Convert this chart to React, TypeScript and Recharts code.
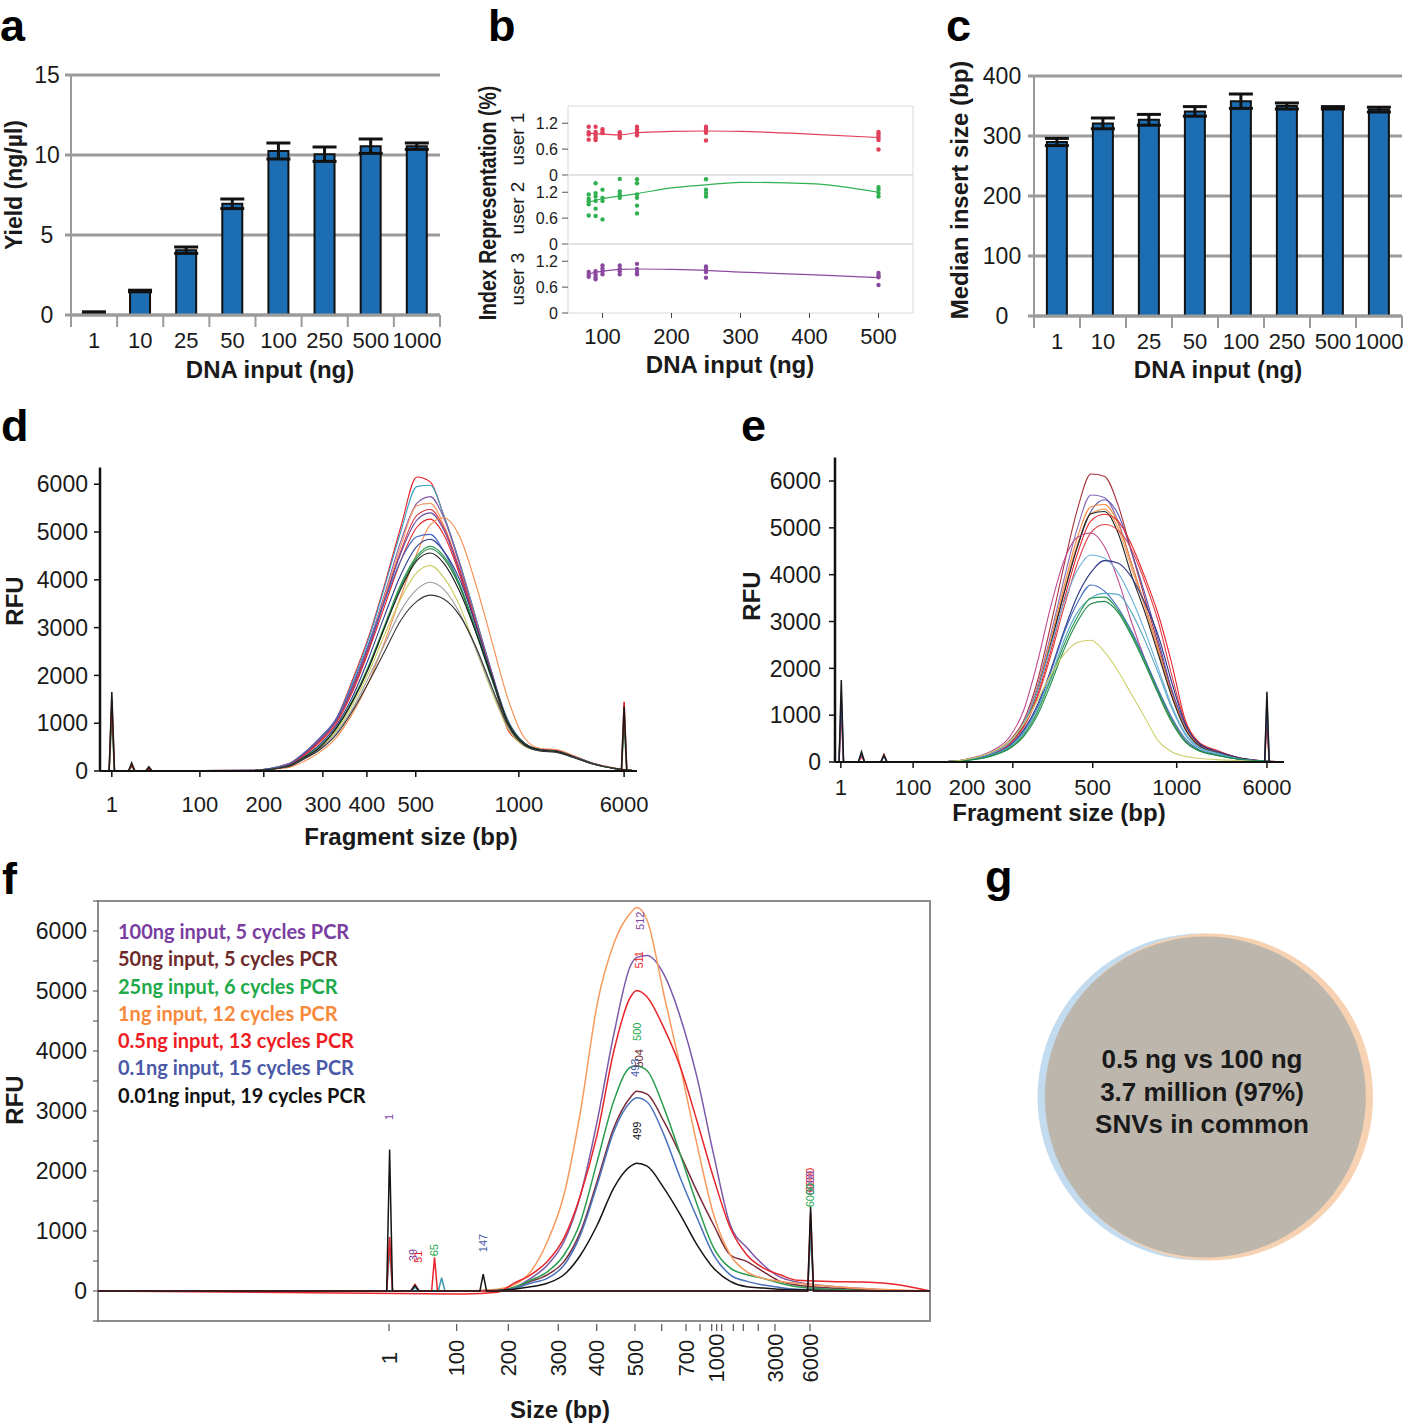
import React from 'react';
import {
  BarChart, Bar, ErrorBar, XAxis, YAxis, CartesianGrid,
  ComposedChart, Line, Scatter, ReferenceArea, Legend,
  PieChart, Pie,
} from 'recharts';

const FONT = '"Liberation Sans", Arial, Helvetica, sans-serif';
const INK = '#1a1a1a';
const GRID = '#9b9b9b';

// ---------- a / c : library yield and insert size by DNA input ----------
const inputs = ['1', '10', '25', '50', '100', '250', '500', '1000'];
const yieldMean = [0.15, 1.5, 4.05, 6.95, 10.25, 10.05, 10.55, 10.55];
const yieldErr = [0.05, 0.05, 0.2, 0.3, 0.5, 0.45, 0.45, 0.2];
const insertMedian = [290, 321, 327, 341, 358, 350, 347, 344];
const insertErr = [6, 9, 9, 8, 12, 5, 2, 4];

// ---------- b : index representation per user ----------
const bInputs = [80, 90, 100, 125, 150, 250, 500];
const user1Reps = [
  [1.12, 0.99, 0.94, 0.82], [1.12, 1.0, 0.93, 0.86, 0.81], [1.06, 1.0, 0.97],
  [0.99, 0.94, 0.89, 0.86], [1.12, 1.06, 1.0, 0.96, 0.92], [1.12, 1.07, 1.02, 0.98, 0.8],
  [1.0, 0.96, 0.91, 0.86, 0.81, 0.59],
];
const user2Reps = [
  [1.15, 1.05, 0.99, 0.92, 0.66], [1.41, 1.18, 1.1, 1.0, 0.82, 0.65], [1.26, 1.07, 1.0, 0.57],
  [1.51, 1.22, 1.15, 1.07], [1.5, 1.41, 1.15, 1.07, 0.89, 0.71], [1.5, 1.26, 1.18, 1.1],
  [1.32, 1.26, 1.18, 1.1],
];
const user3Reps = [
  [0.95, 0.89, 0.84], [0.97, 0.89, 0.83, 0.78], [1.1, 1.03, 0.97, 0.9],
  [1.1, 1.03, 0.97, 0.9], [1.14, 1.02, 0.95, 0.9], [1.08, 1.02, 0.95, 0.82],
  [0.93, 0.87, 0.83, 0.65],
];
const fitInputs = [80, 100, 125, 150, 200, 250, 300, 400, 500];
const user1Fit = [0.97, 0.95, 0.93, 0.98, 1.01, 1.02, 1.01, 0.95, 0.87];
const user2Fit = [0.97, 1.05, 1.11, 1.17, 1.3, 1.37, 1.43, 1.4, 1.2];
const user3Fit = [0.91, 0.97, 1.01, 1.02, 1.01, 0.99, 0.95, 0.89, 0.82];
const bTicks = [100, 200, 300, 400, 500];

// ---------- d : electropherograms (migration position 0-100, RFU) ----------
const dTickPos = [2.2, 18.6, 30.5, 41.5, 49.7, 58.8, 78.0, 97.6];
const dTickLabels = ['1', '100', '200', '300', '400', '500', '1000', '6000'];
const dGrid = [0, 28, 35, 38, 41, 44, 47, 50, 53, 56, 59, 61.5, 64, 67, 70, 73, 76, 79, 82, 85, 88, 92, 96, 100];
const dTraces = [
  [0, 15, 150, 380, 700, 1100, 1900, 2800, 3900, 5100, 6150, 6050, 5350, 4350, 3200, 2000, 850, 560, 450, 430, 320, 150, 50, 0],
  [0, 15, 140, 370, 690, 1080, 1850, 2750, 3850, 5000, 5950, 5980, 5350, 4350, 3200, 2050, 950, 570, 450, 430, 320, 150, 50, 0],
  [0, 12, 120, 340, 640, 1050, 1750, 2650, 3700, 4800, 5600, 5740, 5300, 4300, 3150, 2050, 1000, 580, 450, 430, 320, 150, 50, 0],
  [0, 12, 110, 320, 600, 1000, 1700, 2600, 3650, 4700, 5550, 5600, 5150, 4200, 3100, 2000, 950, 560, 440, 420, 310, 150, 50, 0],
  [0, 14, 130, 360, 660, 1050, 1750, 2600, 3600, 4600, 5350, 5470, 5100, 4200, 3100, 2000, 1000, 580, 450, 430, 320, 150, 50, 0],
  [0, 12, 125, 350, 650, 1050, 1700, 2550, 3550, 4550, 5250, 5400, 5050, 4150, 3050, 1950, 1000, 570, 440, 420, 310, 150, 50, 0],
  [0, 12, 120, 330, 620, 1000, 1650, 2500, 3450, 4400, 5100, 5270, 4950, 4100, 3050, 2000, 1020, 580, 450, 430, 320, 150, 50, 0],
  [0, 8, 70, 200, 400, 700, 1200, 1850, 2700, 3650, 4550, 5150, 5300, 4900, 3900, 2700, 1500, 700, 470, 450, 330, 160, 60, 0],
  [0, 14, 140, 380, 700, 1100, 1800, 2650, 3550, 4400, 4900, 4950, 4600, 3900, 2950, 1950, 1000, 570, 440, 420, 310, 150, 50, 0],
  [0, 10, 110, 300, 560, 950, 1550, 2350, 3250, 4100, 4700, 4850, 4600, 4000, 3050, 2000, 1050, 590, 450, 420, 310, 150, 50, 0],
  [0, 10, 100, 290, 520, 900, 1480, 2200, 3050, 3900, 4500, 4700, 4500, 3900, 2950, 1950, 1020, 580, 440, 410, 300, 140, 50, 0],
  [0, 10, 100, 280, 510, 880, 1450, 2150, 3000, 3850, 4450, 4650, 4450, 3850, 2900, 1900, 1000, 570, 440, 410, 300, 140, 50, 0],
  [0, 10, 95, 270, 490, 840, 1380, 2050, 2850, 3600, 4150, 4300, 4050, 3450, 2550, 1650, 880, 520, 420, 400, 290, 140, 50, 0],
  [0, 10, 90, 260, 470, 800, 1300, 1950, 2650, 3350, 3800, 3950, 3800, 3300, 2550, 1700, 920, 540, 420, 400, 290, 140, 50, 0],
  [0, 10, 100, 280, 500, 900, 1450, 2150, 3000, 3800, 4400, 4560, 4350, 3750, 2900, 1950, 1000, 570, 440, 410, 300, 140, 50, 0],
  [0, 10, 90, 250, 450, 760, 1250, 1850, 2500, 3150, 3550, 3680, 3600, 3250, 2600, 1750, 950, 540, 420, 390, 290, 140, 50, 0],
];
const dColors = ['#e41e26', '#36a3c4', '#8459a8', '#f49b6b', '#d8343f', '#6a4a9e', '#e8212a', '#f58a4c',
  '#4569c0', '#2e3d8f', '#2a9a52', '#1c7a3c', '#c9c95a', '#9a9a9a', '#1a1a1a', '#333333'];
const dMarkerX = [0, 1.7, 2.2, 2.7, 5.3, 5.9, 6.5, 8.5, 9.1, 9.7, 97.1, 97.6, 98.1, 100];
const dMarkers = [
  [0, 0, 1100, 0, 0, 100, 0, 0, 70, 0, 0, 1000, 0, 0],
  [0, 0, 1500, 0, 0, 120, 0, 0, 60, 0, 0, 1450, 0, 0],
  [0, 0, 1650, 0, 0, 170, 0, 0, 90, 0, 0, 1350, 0, 0],
];
const dMarkerColors = ['#2a9a52', '#e41e26', '#1a1a1a'];

// ---------- e ----------
const eTickPos = [1.3, 17.4, 29.4, 39.6, 57.4, 76.1, 96.2];
const eTickLabels = ['1', '100', '200', '300', '500', '1000', '6000'];
const eGrid = [0, 25, 30, 35, 39, 42, 45, 48, 51, 54, 57, 60, 63, 66, 69, 72, 75, 78, 81, 85, 90, 95, 100];
const eTraces = [
  [0, 10, 70, 210, 470, 880, 1700, 2900, 4200, 5400, 6150, 6100, 5500, 4500, 3500, 2500, 1500, 750, 370, 210, 80, 20, 0],
  [0, 10, 65, 200, 450, 850, 1600, 2700, 3900, 5000, 5700, 5650, 5150, 4250, 3350, 2400, 1450, 720, 360, 200, 80, 20, 0],
  [0, 10, 60, 190, 420, 800, 1500, 2500, 3600, 4600, 5350, 5600, 5300, 4500, 3600, 2600, 1550, 780, 380, 210, 80, 20, 0],
  [0, 10, 60, 200, 430, 820, 1550, 2600, 3750, 4800, 5450, 5500, 5100, 4250, 3350, 2400, 1450, 730, 360, 200, 80, 20, 0],
  [0, 10, 60, 190, 420, 800, 1500, 2550, 3650, 4650, 5300, 5400, 5000, 4150, 3300, 2350, 1400, 710, 350, 200, 80, 20, 0],
  [0, 10, 60, 190, 420, 780, 1500, 2500, 3600, 4600, 5300, 5350, 4900, 4000, 3200, 2300, 1400, 700, 350, 200, 80, 20, 0],
  [0, 10, 55, 180, 400, 760, 1400, 2350, 3450, 4450, 5150, 5290, 5150, 4650, 3950, 3150, 2100, 900, 430, 250, 90, 25, 0],
  [0, 10, 55, 175, 390, 740, 1350, 2250, 3300, 4250, 4900, 5070, 4950, 4550, 3850, 3000, 1850, 850, 400, 240, 90, 25, 0],
  [0, 10, 80, 240, 550, 1100, 2100, 3300, 4300, 4800, 4890, 4600, 3900, 3000, 2200, 1500, 900, 450, 250, 150, 60, 20, 0],
  [0, 10, 60, 190, 430, 820, 1500, 2450, 3400, 4100, 4420, 4350, 4050, 3500, 2800, 2000, 1200, 620, 320, 190, 70, 20, 0],
  [0, 8, 50, 160, 360, 680, 1200, 1950, 2800, 3550, 4050, 4300, 4250, 3950, 3400, 2700, 1700, 820, 400, 230, 90, 25, 0],
  [0, 8, 50, 160, 350, 650, 1150, 1900, 2750, 3400, 3780, 3650, 3300, 2800, 2200, 1550, 950, 500, 270, 160, 60, 20, 0],
  [0, 8, 45, 150, 330, 620, 1100, 1800, 2600, 3200, 3500, 3600, 3580, 3200, 2600, 1900, 1150, 580, 300, 170, 70, 20, 0],
  [0, 8, 45, 140, 310, 580, 1050, 1750, 2500, 3100, 3500, 3520, 3250, 2750, 2150, 1500, 900, 450, 250, 150, 60, 20, 0],
  [0, 8, 40, 130, 290, 540, 980, 1650, 2400, 3000, 3380, 3430, 3200, 2700, 2100, 1450, 850, 430, 240, 140, 60, 20, 0],
  [0, 12, 70, 220, 450, 800, 1300, 1850, 2300, 2550, 2600, 2350, 1950, 1450, 950, 450, 220, 120, 80, 50, 30, 10, 0],
];
const eColors = ['#a8323a', '#8a6ab8', '#5a4fb0', '#f28a3c', '#f4a060', '#222222', '#e8262b', '#e04048',
  '#c04a90', '#6ab0d8', '#2a3480', '#3f68c0', '#5aa8c8', '#2a9a50', '#1c8a48', '#cfcf6a'];
const eMarkerX = [0, 0.9, 1.4, 1.9, 5.2, 5.9, 6.6, 10.2, 10.9, 11.6, 95.7, 96.2, 96.7, 100];
const eMarkers = [
  [0, 0, 1100, 0, 0, 120, 0, 0, 160, 0, 0, 900, 0, 0],
  [0, 0, 1400, 0, 0, 180, 0, 0, 120, 0, 0, 1300, 0, 0],
  [0, 0, 1750, 0, 0, 220, 0, 0, 150, 0, 0, 1500, 0, 0],
];
const eMarkerColors = ['#e8262b', '#3f68c0', '#1a1a1a'];

// ---------- f : one trace per input / PCR cycles ----------
const fSamples = ['100ng input, 5 cycles PCR', '50ng input, 5 cycles PCR', '25ng input, 6 cycles PCR',
  '1ng input, 12 cycles PCR', '0.5ng input, 13 cycles PCR', '0.1ng input, 15 cycles PCR', '0.01ng input, 19 cycles PCR'];
const fLegendColors = ['#7a3ea1', '#6e2b2b', '#1eaa4b', '#f7893b', '#ee1d24', '#4b5aa8', '#111111'];
const fLineColors = ['#7d58a8', '#7b2d3c', '#2a9d4e', '#f79a5e', '#e8262b', '#4a72bd', '#151515'];
const fGrid = [0, 44, 48, 50, 52, 54, 56, 58, 60, 62, 64, 64.75, 66, 68, 70, 72, 74, 76, 78, 80, 82, 84, 88, 92, 96, 100];
const fTraces = [
  [0, 0, 20, 60, 210, 430, 820, 1600, 2830, 4280, 5420, 5560, 5590, 5280, 4560, 3560, 2270, 1100, 720, 430, 230, 150, 80, 40, 10, 0],
  [0, 0, 15, 50, 160, 270, 490, 990, 1830, 2720, 3230, 3330, 3280, 2830, 2270, 1660, 1100, 600, 490, 320, 160, 100, 50, 20, 0, 0],
  [0, 0, 20, 60, 180, 320, 600, 1160, 2160, 3170, 3730, 3750, 3670, 3060, 2270, 1440, 720, 380, 270, 210, 130, 70, 30, 10, 0, 0],
  [0, 0, 30, 100, 320, 820, 1600, 3000, 4780, 5790, 6300, 6390, 6180, 4950, 3730, 2440, 1270, 600, 320, 210, 160, 130, 80, 40, 20, 0],
  [0, -50, -20, 130, 270, 490, 880, 1600, 2610, 4000, 4900, 5010, 4900, 4390, 3730, 2830, 1880, 1050, 600, 380, 270, 180, 160, 150, 110, 0],
  [0, 0, 10, 40, 130, 210, 430, 940, 1770, 2660, 3150, 3220, 3150, 2610, 1880, 1220, 600, 270, 160, 100, 60, 30, 10, 0, 0, 0],
  [0, 0, 10, 30, 70, 130, 270, 600, 1100, 1720, 2080, 2130, 2080, 1720, 1270, 770, 380, 160, 70, 50, 30, 20, 10, 0, 0, 0],
];
const fMarkerX = [0, 34.7, 35.05, 35.4, 37.6, 38.1, 38.6, 40.1, 40.45, 40.8, 40.9, 41.3, 41.7, 45.9, 46.3, 46.7, 85.3, 85.65, 86.0, 100];
const fMarkers = [
  [0, 0, 700, 0, 0, 60, 0, 0, 0, 0, 0, 220, 0, 0, 0, 0, 0, 950, 0, 0],
  [0, 0, 900, 0, 0, 110, 0, 0, 560, 0, 0, 0, 0, 0, 0, 0, 0, 1300, 0, 0],
  [0, 0, 2360, 0, 0, 90, 0, 0, 0, 0, 0, 0, 0, 0, 280, 0, 0, 1400, 0, 0],
];
const fMarkerColors = ['#3a9ab0', '#e8262b', '#151515'];
const fTickPos = [34.98, 43.11, 49.32, 55.32, 59.94, 64.54, 67.75, 70.67, 72.36, 73.76, 74.36, 74.96, 76.36, 77.56, 79.36, 81.37, 85.58];
const fTickLabels = ['1', '100', '200', '300', '400', '500', '', '700', '', '', '1000', '', '', '', '', '3000', '6000'];
const fYTicks = [-500, 0, 500, 1000, 1500, 2000, 2500, 3000, 3500, 4000, 4500, 5000, 5500, 6000, 6500];
// peak calls: size label, sample index, migration position, RFU
const peakCalls = [
  { size: '1', sample: 0, x: 35.0, y: 2900 },
  { size: '39', sample: 0, x: 37.9, y: 600 },
  { size: '51', sample: 4, x: 38.5, y: 570 },
  { size: '65', sample: 2, x: 40.4, y: 680 },
  { size: '147', sample: 5, x: 46.3, y: 800 },
  { size: '512', sample: 0, x: 65.2, y: 6170 },
  { size: '511', sample: 4, x: 65.1, y: 5520 },
  { size: '500', sample: 2, x: 64.8, y: 4320 },
  { size: '504', sample: 1, x: 65.0, y: 3880 },
  { size: '493', sample: 5, x: 64.6, y: 3720 },
  { size: '499', sample: 6, x: 64.8, y: 2670 },
  { size: '6000', sample: 4, x: 85.65, y: 1850 },
  { size: '6000', sample: 0, x: 85.65, y: 1800 },
  { size: '6000', sample: 2, x: 85.65, y: 1600 },
];

// ---------- g : SNV overlap ----------
const vennSets = [{ name: '0.5 ng', value: 1 }, { name: '100 ng', value: 1 }, { name: 'shared', value: 1 }];
const vennText = ['0.5 ng vs 100 ng', '3.7 million (97%)', 'SNVs in common'];

const rfuTicks = [0, 1000, 2000, 3000, 4000, 5000, 6000];

function Caption({ x, y, size = 24, weight = 700, rotate = false, squeeze = 1, color = INK, family = FONT, children }: any) {
  const t = `translate(-50%, -50%)${rotate ? ' rotate(-90deg)' : ''}${squeeze !== 1 ? ` scaleX(${squeeze})` : ''}`;
  return (
    <div style={{ position: 'absolute', left: x, top: y, transform: t, fontSize: size, fontWeight: weight,
      fontFamily: family, whiteSpace: 'nowrap', lineHeight: 1, color }}>
      {children}
    </div>
  );
}

function PanelLetter({ x, y, children }: any) {
  return (
    <div style={{ position: 'absolute', left: x, top: y, fontSize: 45, fontWeight: 700, fontFamily: FONT, lineHeight: 1, color: '#000' }}>
      {children}
    </div>
  );
}

const bandTick = (band: number, last: number) => (props: any) => {
  const { x, y, payload, index } = props;
  return (
    <g>
      <line x1={x - band / 2} x2={x - band / 2} y1={y} y2={y + 12} stroke={GRID} strokeWidth={2} />
      {index === last && <line x1={x + band / 2} x2={x + band / 2} y1={y} y2={y + 12} stroke={GRID} strokeWidth={2} />}
      <text x={x} y={y + 17} dy="0.71em" textAnchor="middle" fontSize={22} fill={INK} fontFamily={FONT}>{payload.value}</text>
    </g>
  );
};

const centerTick = (cx: number) => (props: any) => (
  <text x={cx} y={props.y} dy="0.355em" textAnchor="middle" fontSize={23} fill={INK} fontFamily={FONT}>
    {props.payload.value}
  </text>
);

function BarPanel({ values, errors, domain, ticks, yWidth, labelX, top, left, width, margin }: any) {
  const data = inputs.map((input, i) => ({ input, value: values[i], err: errors[i] }));
  const band = (width - margin.left - margin.right - yWidth) / inputs.length;
  return (
    <div style={{ position: 'absolute', left, top }}>
      <BarChart width={width} height={330} data={data} margin={margin} barCategoryGap="28%">
        <CartesianGrid vertical={false} stroke={GRID} strokeWidth={3} />
        <XAxis dataKey="input" height={330 - margin.top - 240} interval={0} axisLine={{ stroke: GRID, strokeWidth: 3 }}
          tickLine={false} tickSize={0} tickMargin={0} tick={bandTick(band, inputs.length - 1)} />
        <YAxis domain={domain} ticks={ticks} width={yWidth} axisLine={{ stroke: GRID, strokeWidth: 2 }}
          tickLine={{ stroke: GRID, strokeWidth: 3 }} tickSize={6} tick={centerTick(labelX)} />
        <Bar dataKey="value" fill="#1d6db3" stroke="#111" strokeWidth={2} isAnimationActive={false}>
          <ErrorBar dataKey="err" width={12} strokeWidth={3} stroke="#111" />
        </Bar>
      </BarChart>
    </div>
  );
}

const smallDot = (props: any) => <circle cx={props.cx} cy={props.cy} r={2.2} fill={props.fill} />;

function IndexRow({ reps, fit, color, top, last }: any) {
  const points = bInputs.flatMap((x, i) => reps[i].map((y: number) => ({ x, y })));
  const fitLine = fitInputs.map((x, i) => ({ x, y: fit[i] }));
  return (
    <div style={{ position: 'absolute', left: 470, top }}>
      <ComposedChart width={450} height={last ? 135 : 89} margin={{ top: 10, right: 7, bottom: last ? 0 : 10, left: 0 }}>
        <XAxis type="number" dataKey="x" domain={[50, 550]} ticks={bTicks} hide={!last} height={56} axisLine={false}
          tickLine={{ stroke: '#444' }} tickSize={5} tickMargin={10} tick={{ fontSize: 22, fill: INK, fontFamily: FONT }} />
        <YAxis type="number" dataKey="y" domain={[0, 1.6]} ticks={[0, 0.6, 1.2]} width={98} axisLine={false}
          tickLine={{ stroke: '#555' }} tickSize={6} tickMargin={4} tick={{ fontSize: 16, fill: INK, fontFamily: FONT }} />
        <ReferenceArea x1={50} x2={550} y1={0} y2={1.6} fill="none" stroke="#d9d9d9" />
        <Line data={fitLine} dataKey="y" type="monotone" stroke={color} strokeWidth={1.2} dot={false} isAnimationActive={false} />
        <Scatter data={points} fill={color} shape={smallDot} isAnimationActive={false} />
      </ComposedChart>
    </div>
  );
}

function TracePanel({ left, top, width, height, margin, yWidth, yMax, yTickMargin, xHeight, xTickMargin,
  tickPos, tickLabels, grid, traces, colors, markerX, markers, markerColors }: any) {
  return (
    <div style={{ position: 'absolute', left, top }}>
      <ComposedChart width={width} height={height} margin={margin}>
        <XAxis type="number" dataKey="x" domain={[0, 100]} ticks={tickPos} interval={0} height={xHeight}
          tickFormatter={(v: number) => tickLabels[tickPos.indexOf(v)]}
          axisLine={{ stroke: '#111', strokeWidth: 2 }} tickLine={{ stroke: '#111', strokeWidth: 1.5 }}
          tickSize={6} tickMargin={xTickMargin} tick={{ fontSize: 22, fill: INK, fontFamily: FONT }} />
        <YAxis type="number" dataKey="y" domain={[0, yMax]} ticks={rfuTicks} width={yWidth}
          axisLine={{ stroke: '#111', strokeWidth: 2.5 }} tickLine={{ stroke: '#111', strokeWidth: 1.5 }}
          tickSize={6} tickMargin={yTickMargin} tick={{ fontSize: 23, fill: INK, fontFamily: FONT }} />
        {traces.map((vals: number[], i: number) => (
          <Line key={`t${i}`} data={grid.map((x: number, j: number) => ({ x, y: vals[j] }))} dataKey="y" type="monotone"
            stroke={colors[i]} strokeWidth={1.1} dot={false} isAnimationActive={false} />
        ))}
        {markers.map((vals: number[], i: number) => (
          <Line key={`m${i}`} data={markerX.map((x: number, j: number) => ({ x, y: vals[j] }))} dataKey="y" type="linear"
            stroke={markerColors[i]} strokeWidth={1.5} dot={false} isAnimationActive={false} />
        ))}
      </ComposedChart>
    </div>
  );
}

const fXTick = (props: any) => {
  const { x, y, payload } = props;
  const label = fTickLabels[fTickPos.indexOf(payload.value)];
  const ty = y + 37;
  return (
    <g>
      <line x1={x} x2={x} y1={y + 3} y2={y + 10} stroke="#555" strokeWidth={1.2} />
      {label ? (
        <text x={x} y={ty} transform={`rotate(-90 ${x} ${ty})`} textAnchor="middle" dy="0.35em" fontSize={22}
          fill={INK} fontFamily={FONT}>{label}</text>
      ) : null}
    </g>
  );
};

const fYTick = (props: any) => {
  const v = props.payload.value;
  if (v < 0 || v > 6000 || v % 1000 !== 0) return <g />;
  return (
    <text x={props.x} y={props.y} dy="0.355em" textAnchor="end" fontSize={23} fill={INK} fontFamily={FONT}>{v}</text>
  );
};

const peakLabel = (props: any) => {
  const { cx, cy, payload } = props;
  return (
    <text x={cx} y={cy} transform={`rotate(-90 ${cx} ${cy})`} textAnchor="middle" dy="0.35em" fontSize={11}
      fill={fLegendColors[payload.sample]} fontFamily={FONT}>{payload.size}</text>
  );
};

const fLegend = () => (
  <div style={{ fontFamily: 'Lato, "Open Sans", sans-serif', fontWeight: 700, fontSize: 20, lineHeight: '27.3px' }}>
    {fSamples.map((s, i) => (
      <div key={s} style={{ color: fLegendColors[i], whiteSpace: 'nowrap' }}>{s}</div>
    ))}
  </div>
);

function SizingPanel() {
  return (
    <div style={{ position: 'absolute', left: 0, top: 880 }}>
      <ComposedChart width={950} height={544} margin={{ top: 21, right: 20, bottom: 0, left: 0 }}>
        <XAxis type="number" dataKey="x" domain={[0, 100]} ticks={fTickPos} interval={0} height={103}
          axisLine={false} tickLine={false} tickSize={0} tickMargin={0} tick={fXTick} />
        <YAxis type="number" dataKey="y" domain={[-500, 6500]} ticks={fYTicks} interval={0} width={98} axisLine={false}
          tickLine={{ stroke: '#444' }} tickSize={5} tickMargin={6} tick={fYTick} />
        <ReferenceArea x1={0} x2={100} y1={-500} y2={6500} fill="none" stroke="#8c8c8c" strokeWidth={2} />
        {fTraces.map((vals, i) => (
          <Line key={fSamples[i]} name={fSamples[i]} data={fGrid.map((x, j) => ({ x, y: vals[j] }))} dataKey="y"
            type="monotone" stroke={fLineColors[i]} strokeWidth={1.5} dot={false} isAnimationActive={false} />
        ))}
        {fMarkers.map((vals, i) => (
          <Line key={`fm${i}`} data={fMarkerX.map((x, j) => ({ x, y: vals[j] }))} dataKey="y" type="linear"
            stroke={fMarkerColors[i]} strokeWidth={1.5} dot={false} isAnimationActive={false} legendType="none" />
        ))}
        <Scatter data={peakCalls} shape={peakLabel} isAnimationActive={false} legendType="none" />
        <Legend layout="vertical" align="center" verticalAlign="middle" content={fLegend}
          wrapperStyle={{ left: 118, top: 38, width: 330, height: 200 }} />
      </ComposedChart>
    </div>
  );
}

function VennPanel() {
  return (
    <div style={{ position: 'absolute', left: 1000, top: 905 }}>
      <PieChart width={420} height={380}>
        <Pie data={[vennSets[0]]} dataKey="value" cx={196} cy={187} outerRadius={163.5} startAngle={90} endAngle={-270}
          fill="#c3dbee" stroke="none" isAnimationActive={false} />
        <Pie data={[vennSets[1]]} dataKey="value" cx={204.5} cy={187} outerRadius={163.5} startAngle={90} endAngle={-270}
          fill="#f6d1b2" stroke="none" isAnimationActive={false} />
        <Pie data={[vennSets[2]]} dataKey="value" cx={200.3} cy={187} outerRadius={160.5} startAngle={90} endAngle={-270}
          fill="#bcb6ad" stroke="none" isAnimationActive={false} />
      </PieChart>
    </div>
  );
}

export default function App() {
  return (
    <div style={{ position: 'absolute', left: 0, top: 0, width: 1415, height: 1424, background: '#fff', fontFamily: FONT, overflow: 'hidden' }}>
      <PanelLetter x={0} y={3}>a</PanelLetter>
      <PanelLetter x={488} y={3}>b</PanelLetter>
      <PanelLetter x={946} y={3}>c</PanelLetter>
      <PanelLetter x={1} y={403}>d</PanelLetter>
      <PanelLetter x={741} y={403}>e</PanelLetter>
      <PanelLetter x={2} y={856}>f</PanelLetter>
      <PanelLetter x={985} y={854}>g</PanelLetter>

      <BarPanel values={yieldMean} errors={yieldErr} domain={[0, 15]} ticks={[0, 5, 10, 15]} yWidth={71} labelX={47}
        left={0} top={60} width={450} margin={{ top: 15, right: 10, bottom: 0, left: 0 }} />
      <Caption x={14} y={185} size={23} rotate>Yield (ng/µl)</Caption>
      <Caption x={270} y={370}>DNA input (ng)</Caption>

      <IndexRow reps={user1Reps} fit={user1Fit} color="#e0405a" top={96} />
      <IndexRow reps={user2Reps} fit={user2Fit} color="#30b050" top={165} />
      <IndexRow reps={user3Reps} fit={user3Fit} color="#8a4aa0" top={234} last />
      <Caption x={488} y={203} size={23} rotate squeeze={0.85}>Index Representation (%)</Caption>
      <Caption x={517} y={139} size={19} weight={400} rotate>user 1</Caption>
      <Caption x={517} y={208} size={19} weight={400} rotate>user 2</Caption>
      <Caption x={517} y={279} size={19} weight={400} rotate>user 3</Caption>
      <Caption x={730} y={365}>DNA input (ng)</Caption>

      <BarPanel values={insertMedian} errors={insertErr} domain={[0, 400]} ticks={[0, 100, 200, 300, 400]} yWidth={94}
        labelX={62} left={940} top={60} width={475} margin={{ top: 16, right: 13, bottom: 0, left: 0 }} />
      <Caption x={960} y={190} rotate>Median insert size (bp)</Caption>
      <Caption x={1218} y={370}>DNA input (ng)</Caption>

      <TracePanel left={0} top={450} width={660} height={420} margin={{ top: 17.5, right: 23, bottom: 0, left: 0 }}
        yWidth={100} yMax={6350} yTickMargin={6} xHeight={99} xTickMargin={19}
        tickPos={dTickPos} tickLabels={dTickLabels} grid={dGrid} traces={dTraces} colors={dColors}
        markerX={dMarkerX} markers={dMarkers} markerColors={dMarkerColors} />
      <Caption x={15} y={601} rotate>RFU</Caption>
      <Caption x={411} y={837}>Fragment size (bp)</Caption>

      <TracePanel left={730} top={440} width={580} height={400} margin={{ top: 17.6, right: 26, bottom: 0, left: 0 }}
        yWidth={105} yMax={6500} yTickMargin={8} xHeight={78} xTickMargin={11}
        tickPos={eTickPos} tickLabels={eTickLabels} grid={eGrid} traces={eTraces} colors={eColors}
        markerX={eMarkerX} markers={eMarkers} markerColors={eMarkerColors} />
      <Caption x={752} y={596} rotate>RFU</Caption>
      <Caption x={1059} y={813}>Fragment size (bp)</Caption>

      <SizingPanel />
      <Caption x={15} y={1100} rotate>RFU</Caption>
      <Caption x={560} y={1410}>Size (bp)</Caption>

      <VennPanel />
      {vennText.map((line, i) => (
        <Caption key={line} x={1202} y={1059 + i * 32.5} size={26}>{line}</Caption>
      ))}
    </div>
  );
}
